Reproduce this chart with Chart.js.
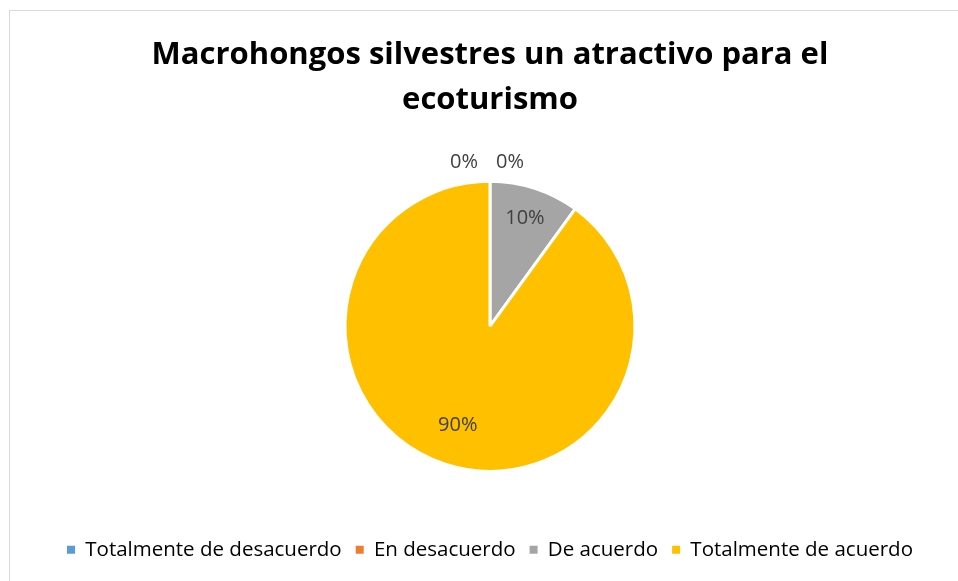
<!DOCTYPE html>
<html>
<head>
<meta charset="utf-8">
<script src="https://cdn.jsdelivr.net/npm/chart.js@4.4.1/dist/chart.umd.min.js"></script>
<style>
  html, body { margin:0; padding:0; width:958px; height:581px; overflow:hidden; background:#fff; }
  #frame { position:absolute; left:9px; top:10px; width:1000px; height:700px; border:1px solid #d9d9d9; box-sizing:border-box; }
  #wrap { position:absolute; left:0; top:0; width:958px; height:581px; }
</style>
</head>
<body>
<div id="frame"></div>
<div id="wrap"><canvas id="pieChart" width="958" height="581"></canvas></div>
<script>
const categories = ['Totalmente de desacuerdo', 'En desacuerdo', 'De acuerdo', 'Totalmente de acuerdo'];
const percentages = [0, 0, 10, 90];
const sliceColors = ['#5b9bd5', '#ed7d31', '#a5a5a5', '#ffc000'];
const titleLines = ['Macrohongos silvestres un atractivo para el', 'ecoturismo'];

const FONT = '"Open Sans", Lato, sans-serif';

// percentage labels: inside the slice, or just above the pie for empty slices
const sliceLabels = {
  id: 'sliceLabels',
  afterDatasetsDraw(chart){
    const ctx = chart.ctx;
    const meta = chart.getDatasetMeta(0);
    const data = chart.data.datasets[0].data;
    ctx.save();
    ctx.font = '20px ' + FONT;
    ctx.fillStyle = '#404040';
    ctx.textAlign = 'center';
    ctx.textBaseline = 'middle';
    let zeroSeen = 0;
    meta.data.forEach((arc, i) => {
      const { x, y, startAngle, endAngle, outerRadius } = arc.getProps(['x','y','startAngle','endAngle','outerRadius'], true);
      const txt = data[i] + '%';
      if (data[i] === 0){
        const dx = zeroSeen === 0 ? -26 : 20;
        ctx.fillText(txt, x + dx, y - outerRadius - 19);
        zeroSeen++;
        return;
      }
      const mid = (startAngle + endAngle) / 2;
      const r = outerRadius * (data[i] > 50 ? 0.72 : 0.78);
      ctx.fillText(txt, x + Math.cos(mid) * r, y + Math.sin(mid) * r);
    });
    ctx.restore();
  }
};

new Chart(document.getElementById('pieChart'), {
  type: 'pie',
  data: {
    labels: categories,
    datasets: [{
      data: percentages,
      backgroundColor: sliceColors,
      borderColor: '#ffffff',
      borderWidth: 3
    }]
  },
  options: {
    responsive: false,
    animation: false,
    radius: 145,
    layout: { padding: { left: 22, top: 33, bottom: 11 } },
    plugins: {
      tooltip: { enabled: false },
      title: {
        display: true,
        text: titleLines,
        color: '#000000',
        font: { family: FONT, size: 31, weight: 'bold', lineHeight: 1.45 },
        padding: { top: 0, bottom: 4 }
      },
      legend: {
        position: 'bottom',
        labels: {
          color: '#595959',
          font: { family: FONT, size: 20.5 },
          usePointStyle: true,
          pointStyle: 'rect',
          boxWidth: 8,
          boxHeight: 8,
          padding: 14,
          generateLabels(chart){
            return categories.map((c, i) => ({
              text: c,
              fillStyle: sliceColors[i],
              strokeStyle: sliceColors[i],
              lineWidth: 0,
              pointStyle: 'rect',
              hidden: false,
              index: i
            }));
          }
        }
      }
    }
  },
  plugins: [sliceLabels]
});
</script>
</body>
</html>
